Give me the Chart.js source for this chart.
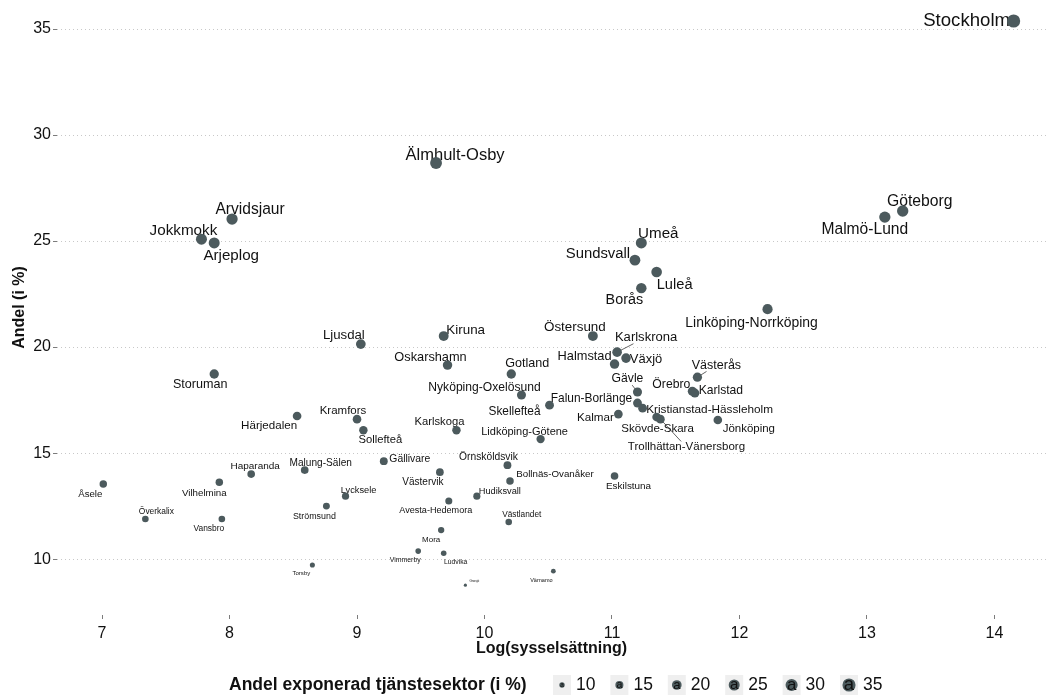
<!DOCTYPE html>
<html>
<head>
<meta charset="utf-8">
<script src="https://cdn.jsdelivr.net/npm/chart.js@4.4.1/dist/chart.umd.min.js"></script>
<style>
  html, body { margin: 0; padding: 0; background: #ffffff; overflow: hidden; }
  #wrap { position: relative; width: 1046px; height: 697px; }
</style>
</head>
<body>
<div id="wrap"><canvas id="chart" width="1046" height="697"></canvas></div>
<script>
// Lokala arbetsmarknader: log(sysselsättning) mot andel exponerad tjänstesektor
const regions = [
  'Stockholm', 'Göteborg', 'Malmö-Lund', 'Älmhult-Osby', 'Arvidsjaur', 'Jokkmokk', 'Arjeplog',
  'Umeå', 'Sundsvall', 'Luleå', 'Borås', 'Linköping-Norrköping', 'Östersund', 'Karlskrona',
  'Halmstad', 'Växjö', 'Västerås', 'Örebro', 'Karlstad', 'Gävle', 'Falun-Borlänge',
  'Kristianstad-Hässleholm', 'Kalmar', 'Skövde-Skara', 'Trollhättan-Vänersborg', 'Jönköping',
  'Gotland', 'Nyköping-Oxelösund', 'Skellefteå', 'Lidköping-Götene', 'Karlskoga', 'Kiruna',
  'Ljusdal', 'Oskarshamn', 'Kramfors', 'Sollefteå', 'Härjedalen', 'Storuman', 'Gällivare',
  'Örnsköldsvik', 'Bollnäs-Ovanåker', 'Eskilstuna', 'Västervik', 'Malung-Sälen', 'Haparanda',
  'Vilhelmina', 'Åsele', 'Överkalix', 'Vansbro', 'Strömsund', 'Lycksele', 'Torsby',
  'Hudiksvall', 'Avesta-Hedemora', 'Västlandet', 'Mora', 'Vimmerby', 'Ludvika', 'Gnosjö', 'Värnamo'
];

const logEmployment = [
  14.15, 13.28, 13.14, 9.62, 8.02, 7.78, 7.88,
  11.23, 11.18, 11.35, 11.23, 12.22, 10.85, 11.04,
  11.02, 11.11, 11.67, 11.63, 11.65, 11.20, 11.20,
  11.24, 11.05, 11.35, 11.38, 11.83,
  10.21, 10.29, 10.51, 10.44, 9.78, 9.68,
  9.03, 9.71, 9.00, 9.05, 8.53, 7.88, 9.21,
  10.18, 10.20, 11.02, 9.65, 8.59, 8.17,
  7.92, 7.01, 7.34, 7.94, 8.76, 8.91, 8.65,
  9.94, 9.72, 10.19, 9.66, 9.48, 9.68, 9.85, 10.54
];

const sharePct = [
  35.38, 26.42, 26.13, 28.68, 26.04, 25.09, 24.91,
  24.91, 24.10, 23.54, 22.78, 21.79, 20.52, 19.76,
  19.20, 19.48, 18.58, 17.92, 17.83, 17.88, 17.36,
  17.12, 16.84, 16.70, 16.60, 16.56,
  18.73, 17.74, 17.26, 15.66, 16.08, 20.52,
  20.14, 19.15, 16.60, 16.08, 16.75, 18.73, 14.62,
  14.43, 13.68, 13.92, 14.10, 14.20, 14.01,
  13.63, 13.54, 11.89, 11.89, 12.50, 12.97, 9.72,
  12.97, 12.74, 11.75, 11.37, 10.38, 10.28, 8.77, 9.43
];

const xTicks = [7, 8, 9, 10, 11, 12, 13, 14];
const yTicks = [10, 15, 20, 25, 30, 35];
const legendBreaks = [10, 15, 20, 25, 30, 35];

// Etikettplacering (pixelförskjutning från punkten) och vilka etiketter som får en linje
const labelOffsets = {
  'Stockholm': [-47, 0], 'Göteborg': [17, -9], 'Malmö-Lund': [-20, 13], 'Älmhult-Osby': [19, -8],
  'Arvidsjaur': [18, -9], 'Jokkmokk': [-18, -8], 'Arjeplog': [17, 13], 'Umeå': [17, -9],
  'Sundsvall': [-37, -6], 'Luleå': [18, 13], 'Borås': [-17, 12], 'Linköping-Norrköping': [-16, 14],
  'Östersund': [-18, -9], 'Karlskrona': [29, -15], 'Halmstad': [-30, -8], 'Växjö': [20, 1],
  'Västerås': [19, -12], 'Örebro': [-21, -7], 'Karlstad': [26, -2], 'Gävle': [-10, -13],
  'Falun-Borlänge': [-46, -4], 'Kristianstad-Hässleholm': [67, 2], 'Kalmar': [-23, 4],
  'Skövde-Skara': [1, 12], 'Trollhättan-Vänersborg': [26, 28], 'Jönköping': [31, 9],
  'Gotland': [16, -10], 'Nyköping-Oxelösund': [-37, -7], 'Skellefteå': [-35, 7],
  'Lidköping-Götene': [-16, -7], 'Karlskoga': [-17, -8], 'Kiruna': [22, -6], 'Ljusdal': [-17, -9],
  'Oskarshamn': [-17, -8], 'Kramfors': [-14, -8], 'Sollefteå': [17, 10], 'Härjedalen': [-28, 10],
  'Storuman': [-14, 11], 'Gällivare': [26, -2], 'Örnsköldsvik': [-19, -8],
  'Bollnäs-Ovanåker': [45, -7], 'Eskilstuna': [14, 10], 'Västervik': [-17, 10],
  'Malung-Sälen': [16, -7], 'Haparanda': [4, -8], 'Vilhelmina': [-15, 11], 'Åsele': [-13, 10],
  'Överkalix': [11, -7], 'Vansbro': [-13, 10], 'Strömsund': [-12, 10], 'Lycksele': [13, -6],
  'Torsby': [-11, 8], 'Hudiksvall': [23, -5], 'Avesta-Hedemora': [-13, 9], 'Västlandet': [13, -7],
  'Mora': [-10, 10], 'Vimmerby': [-13, 9], 'Ludvika': [12, 9], 'Gnosjö': [9, -4], 'Värnamo': [-12, 9]
};
const labelsWithSegment = ['Karlskrona', 'Gävle', 'Västerås', 'Trollhättan-Vänersborg'];

const FONT = '"Liberation Sans", Arial, Helvetica, sans-serif';
const POINT_COLOR = '#4c5a5d';
const TEXT_COLOR = '#111111';

// Storleksskala (area): samma andel styr både punktstorlek och textstorlek
const sMin = Math.min(...sharePct);
const sMax = Math.max(...sharePct);
function sizeOf(v) {
  const t = Math.max(0, Math.min(1, (v - sMin) / (sMax - sMin)));
  return 1 + 5 * Math.sqrt(t);
}
const radiusOf = v => 0.6 + 1.0 * sizeOf(v);
const fontPxOf = v => 3.1 * sizeOf(v);

const points = logEmployment.map((x, i) => ({ x: x, y: sharePct[i] }));

// Etiketter med eventuella linjer mot etikettens mitt (klippt vid textrutan), ritas under punkterna
const repelLabels = {
  id: 'repelLabels',
  beforeDatasetsDraw(chart) {
    const ctx = chart.ctx;
    const xs = chart.scales.x, ys = chart.scales.y;
    ctx.save();
    regions.forEach((name, i) => {
      const px = xs.getPixelForValue(logEmployment[i]);
      const py = ys.getPixelForValue(sharePct[i]);
      const off = labelOffsets[name] || [0, -10];
      const fs = fontPxOf(sharePct[i]);
      ctx.font = fs.toFixed(2) + 'px ' + FONT;
      const lx = px + off[0], ly = py + off[1];
      if (labelsWithSegment.includes(name)) {
        const w = ctx.measureText(name).width / 2 + 1;
        const h = fs * 0.5;
        const dx = lx - px, dy = ly - py;
        // andel av vägen mot mitten där linjen når textrutans kant
        const tx = dx !== 0 ? 1 - w / Math.abs(dx) : 0;
        const ty = dy !== 0 ? 1 - h / Math.abs(dy) : 0;
        const t = Math.max(0, Math.max(tx, ty));
        ctx.strokeStyle = '#222222';
        ctx.lineWidth = 0.7;
        ctx.beginPath();
        ctx.moveTo(px, py);
        ctx.lineTo(px + dx * t, py + dy * t);
        ctx.stroke();
      }
      ctx.fillStyle = TEXT_COLOR;
      ctx.textAlign = 'center';
      ctx.textBaseline = 'middle';
      ctx.fillText(name, lx, ly);
    });
    ctx.restore();
  }
};

// Storleksförklaring längst ned
const sizeLegend = {
  id: 'sizeLegend',
  afterDraw(chart) {
    const ctx = chart.ctx;
    const cy = 685;
    ctx.save();
    ctx.fillStyle = TEXT_COLOR;
    ctx.textBaseline = 'middle';
    ctx.textAlign = 'left';
    ctx.font = 'bold 17.5px ' + FONT;
    ctx.fillText('Andel exponerad tjänstesektor (i %)', 229, cy);
    legendBreaks.forEach((v, k) => {
      const kx = 562 + k * 57.4;
      ctx.fillStyle = '#efefef';
      ctx.fillRect(kx - 9, cy - 10, 18, 20);
      ctx.fillStyle = POINT_COLOR;
      ctx.beginPath();
      ctx.arc(kx, cy, radiusOf(v), 0, Math.PI * 2);
      ctx.fill();
      ctx.fillStyle = TEXT_COLOR;
      ctx.textAlign = 'center';
      ctx.font = fontPxOf(v).toFixed(2) + 'px ' + FONT;
      ctx.fillText('a', kx, cy);
      ctx.textAlign = 'left';
      ctx.font = '17.5px ' + FONT;
      ctx.fillText(String(v), kx + 14, cy);
    });
    ctx.restore();
  }
};

// Axlarna får exakt bredd/höjd och ingen extra kantmarginal för etiketterna
function fixAxisBox(scale, key, value) {
  scale[key] = value;
  scale.paddingTop = 0;
  scale.paddingBottom = 0;
  scale.paddingLeft = 0;
  scale.paddingRight = 0;
}

new Chart(document.getElementById('chart'), {
  type: 'scatter',
  data: {
    datasets: [{
      data: points,
      backgroundColor: POINT_COLOR,
      borderWidth: 0,
      pointRadius: ctx => radiusOf(sharePct[ctx.dataIndex]),
      pointHoverRadius: ctx => radiusOf(sharePct[ctx.dataIndex])
    }]
  },
  options: {
    responsive: false,
    animation: false,
    devicePixelRatio: 1,
    events: [],
    layout: { autoPadding: false, padding: { left: 0, right: 0, top: 0, bottom: 38 } },
    plugins: { legend: { display: false }, tooltip: { enabled: false } },
    scales: {
      x: {
        type: 'linear',
        min: 6.647,
        max: 14.404,
        afterBuildTicks: s => { s.ticks = xTicks.map(v => ({ value: v })); },
        afterFit: s => fixAxisBox(s, 'height', 44),
        grid: { drawOnChartArea: false, drawTicks: true, tickLength: 4, tickColor: '#444444', tickWidth: 0.7 },
        border: { display: false },
        ticks: { padding: 5, color: TEXT_COLOR, font: { family: FONT, size: 16 } },
        title: { display: true, text: 'Log(sysselsättning)', color: TEXT_COLOR, padding: { top: 0, bottom: 1 },
                 font: { family: FONT, size: 16, weight: 'bold' } }
      },
      y: {
        type: 'linear',
        min: 7.364,
        max: 36.37,
        afterBuildTicks: s => { s.ticks = yTicks.map(v => ({ value: v })); },
        afterFit: s => fixAxisBox(s, 'width', 57),
        grid: { color: '#c8c8c8', lineWidth: 1, drawTicks: true, tickLength: 4, tickColor: '#444444',
                tickWidth: 0.7, tickBorderDash: [4, 0] },
        border: { display: false, dash: [1, 3] },
        ticks: { padding: 2, color: TEXT_COLOR, font: { family: FONT, size: 16 } },
        title: { display: true, text: 'Andel (i %)', color: TEXT_COLOR, padding: { top: 10, bottom: 0 },
                 font: { family: FONT, size: 16, weight: 'bold' } }
      }
    }
  },
  plugins: [repelLabels, sizeLegend]
});
</script>
</body>
</html>
